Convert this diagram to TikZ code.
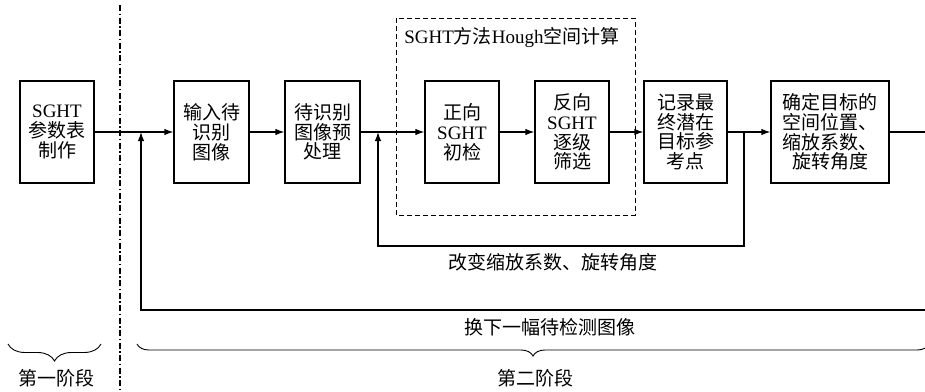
\documentclass[tikz,border=0pt]{standalone}
\usepackage{fontspec}
\setmainfont{Liberation Serif}
\newfontfamily\cjk{Noto Sans CJK SC}
\usetikzlibrary{arrows.meta,decorations.pathreplacing}
\newcommand{\zh}[1]{{\cjk #1}}
\begin{document}
\begin{tikzpicture}[x=1pt,y=-1pt,
  box/.style={draw,line width=1.2pt,minimum height=102pt,align=center,inner sep=0pt,
    font=\fontsize{19}{19.8}\selectfont},
  lbl/.style={font=\fontsize{19}{20}\selectfont\cjk,inner sep=0pt},
  ln/.style={line width=1.2pt},
  arr/.style={line width=1.2pt,-{Latex[length=9pt,width=6.5pt]}},
  brc/.style={decorate,line width=0.9pt,decoration={brace,mirror}}]
\useasboundingbox (0,0) rectangle (925,391);
% boxes
\node[box,minimum width=74pt] (b1) at (57,132) {SGHT\\\zh{参数表}\\\zh{制作}};
\node[box,minimum width=75pt] (b2) at (211.5,132) {\zh{输入待}\\\zh{识别}\\\zh{图像}};
\node[box,minimum width=75pt] (b3) at (322.5,132) {\zh{待识别}\\\zh{图像预}\\\zh{处理}};
\node[box,minimum width=74pt] (b4) at (462,132) {\zh{正向}\\SGHT\\\zh{初检}};
\node[box,minimum width=74pt] (b5) at (572,132) {\zh{反向}\\SGHT\\\zh{逐级}\\\zh{筛选}};
\node[box,minimum width=83pt] (b6) at (685.5,132) {\zh{记录最}\\\zh{终潜在}\\\zh{目标参}\\\zh{考点}};
\node[box,minimum width=118pt] (b7) at (830,132) {\zh{确定目标的}\\\zh{空间位置、}\\\zh{缩放系数、}\\\zh{旋转角度}};
% dashed group box
\draw[line width=0.9pt,dash pattern=on 5pt off 3pt] (396,18) rectangle (635,215);
\node[font=\fontsize{19}{20}\selectfont,inner sep=0pt] (title) at (512,38) {SGHT\zh{方法}Hough\zh{空间计算}};
% dash-dot separator
\coordinate (s1) at (120,5);
\coordinate (s2) at (120,391);
\draw[line width=1.2pt,dash pattern=on 6pt off 2.5pt on 1.5pt off 2.5pt] (s1) -- (s2);
% junction coordinates
\coordinate (j1) at (141,132);
\coordinate (j2) at (378,132);
\coordinate (f1) at (744,132);
\coordinate (f2) at (744,246);
\coordinate (f3) at (378,246);
\coordinate (g1) at (141,310);
\coordinate (g2) at (925,310);
\coordinate (e1) at (925,132);
% main flow
\draw[arr] (b1) -- (b2);
\draw[arr] (b2) -- (b3);
\draw[arr] (b3) -- (b4);
\draw[arr] (b4) -- (b5);
\draw[arr] (b5) -- (b6);
\draw[arr] (b6) -- (b7);
\draw[ln] (b7) -- (e1);
% inner feedback
\draw[arr] (f1) -- (f2) -- (f3) -- (j2);
\node[lbl] (l1) at (553,262) {改变缩放系数、旋转角度};
% outer feedback
\draw[arr] (g2) -- (g1) -- (j1);
\node[lbl] (l2) at (550,327) {换下一幅待检测图像};
% braces
\coordinate (a1) at (8,344);
\coordinate (a2) at (101,344);
\draw[brc,decoration={amplitude=17pt,aspect=0.5}] (a1) -- (a2);
\node[lbl] (p1) at (56,378) {第一阶段};
\coordinate (c1) at (137,344);
\coordinate (c2) at (929,344);
\draw[brc,decoration={amplitude=12pt,aspect=0.5}] (c1) -- (c2);
\node[lbl] (p2) at (535,378) {第二阶段};
\end{tikzpicture}
\end{document}
